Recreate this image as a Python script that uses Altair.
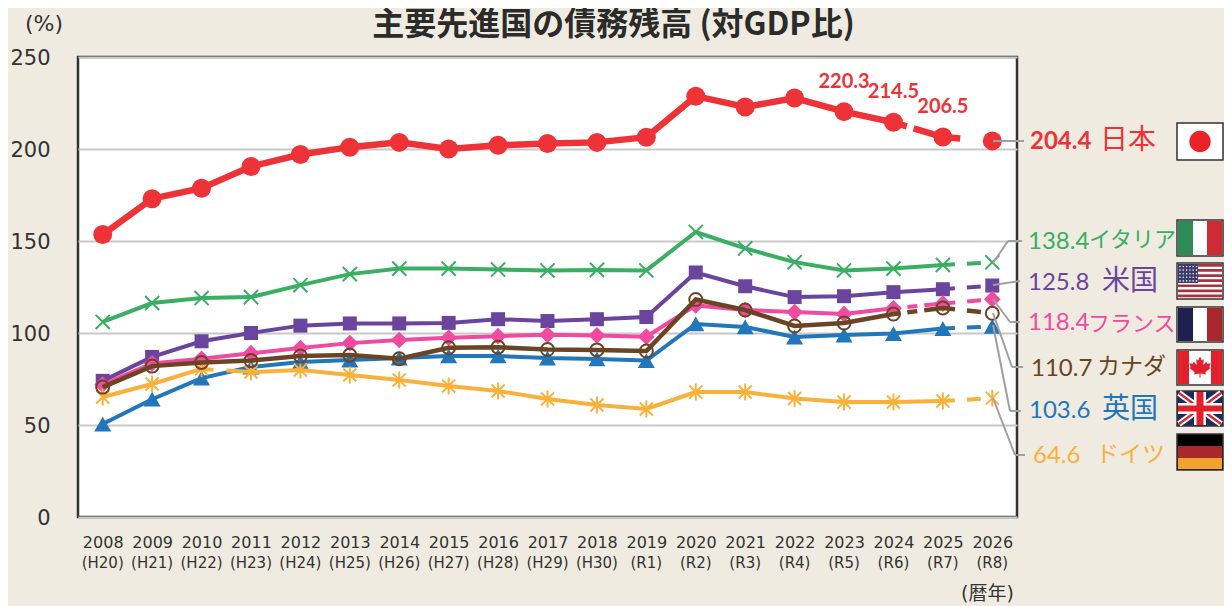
import altair as alt
import pandas as pd

years = list(range(2008, 2027))
eras = ["H20","H21","H22","H23","H24","H25","H26","H27","H28","H29","H30","R1","R2","R3","R4","R5","R6","R7","R8"]

japan = [153.5,173.0,178.7,190.5,197.0,201.0,203.6,200.0,202.0,203.0,203.6,206.4,228.7,222.8,227.7,220.3,214.5,206.5,204.4]
italy = [106.0,116.3,119.0,119.5,126.0,132.0,135.0,135.0,134.5,134.0,134.3,134.0,154.9,146.0,138.5,134.0,135.0,137.0,138.4]
usa = [74.0,87.0,95.5,100.0,104.0,105.2,105.2,105.5,107.5,106.5,107.5,108.7,132.9,125.4,119.5,120.0,122.2,123.8,125.8]
france = [72.0,83.5,86.0,89.0,91.8,94.5,96.2,97.4,98.3,99.0,98.7,98.0,115.0,112.5,111.4,110.3,113.4,116.0,118.4]
canada = [70.6,82.0,84.0,85.0,87.5,88.0,86.0,92.0,92.3,91.0,90.8,90.2,118.2,112.5,103.8,105.4,110.3,113.6,110.7]
uk = [50.5,64.0,75.5,81.5,84.2,85.3,86.4,87.5,87.5,86.4,85.9,85.0,104.9,103.3,97.8,98.9,99.7,102.4,103.6]
germany = [65.2,72.3,80.5,78.8,79.9,77.2,74.5,71.2,68.5,64.1,60.9,58.7,67.9,67.9,64.4,62.5,62.5,63.0,64.6]

RED, GREEN, PURPLE, PINK, BROWN, BLUE, YELLOW = "#EE3338", "#3AAE62", "#6B449E", "#F04BA0", "#6B4423", "#2176BC", "#F9B13C"
BG = "#EFEBE0"
LEADER = "#A0A0A0"
DEJAVU = "DejaVu Sans"
LATIN = "Lato, Noto Sans CJK JP"
CJK = "Noto Sans CJK JP"
L, T = 78, 57  # page position of plot origin

X = alt.X("year:O", scale=alt.Scale(type="point", domain=years, padding=0.5),
          axis=alt.Axis(title=None, labelAngle=0, ticks=False, domain=False, grid=False,
                        labelFont=DEJAVU, labelFontSize=16, labelColor="#333333", labelPadding=17))
Y = alt.Y("v:Q", scale=alt.Scale(domain=[0, 250], nice=False),
          axis=alt.Axis(title=None, values=[0, 50, 100, 150, 200, 250], ticks=False, domain=False,
                        gridColor="#C8C8C8", gridWidth=2, labelFont=DEJAVU, labelFontSize=21,
                        labelColor="#333333", labelPadding=28, labelOffset=1))


def frame(values):
    return pd.DataFrame({"year": years, "v": values})


base_dash = [12, 12, 14, 12]
pt_cross = "M-1,-1L1,1M-1,1L1,-1"
pt_aster = "M-1,-1L1,1M-1,1L1,-1M0,-1.3L0,1.3"

layers = []


def series(values, color, width, solid_to, dashes, shape, size, filled=True, stroke_w=2):
    df = frame(values)
    out = []
    ranges = [(0, solid_to, None)]
    for i, j, d in dashes:
        ranges.append((i, j, d))
    for i, j, d in ranges:
        kw = {"strokeDash": d} if d else {}
        out.append(alt.Chart(df.iloc[i:j + 1]).mark_line(color=color, strokeWidth=width, **kw).encode(x=X, y=Y))
    out_pt = alt.Chart(df).mark_point(shape=shape, size=size, filled=filled,
                                      fill=color if filled else None,
                                      color=color, opacity=1, strokeWidth=stroke_w).encode(x=X, y=Y)
    return out, out_pt


def add(*a, **k):
    lines, pts = series(*a, **k)
    layers.extend(lines)
    layers.append(pts)


add(japan, RED, 6.5, 16, [(16, 18, [14, 7, 48, 40])], "circle", 361)
add(italy, GREEN, 4, 17, [(17, 18, base_dash)], pt_cross, 200, filled=False, stroke_w=2)
add(usa, PURPLE, 4, 17, [(17, 18, base_dash)], "square", 196)
add(france, PINK, 4, 16, [(16, 18, [7, 7, 10, 7, 31, 12, 14, 12])], "diamond", 280)
add(uk, BLUE, 4, 17, [(17, 18, base_dash)], "triangle-up", 290)
df_g = frame(germany)
layers.append(alt.Chart(df_g.iloc[0:3]).mark_line(color=YELLOW, strokeWidth=4).encode(x=X, y=Y))
layers.append(alt.Chart(df_g.iloc[2:4]).mark_line(color=YELLOW, strokeWidth=4, strokeDash=[12, 13, 30]).encode(x=X, y=Y))
layers.append(alt.Chart(df_g.iloc[3:18]).mark_line(color=YELLOW, strokeWidth=4).encode(x=X, y=Y))
layers.append(alt.Chart(df_g.iloc[17:19]).mark_line(color=YELLOW, strokeWidth=4, strokeDash=base_dash).encode(x=X, y=Y))
layers.append(alt.Chart(df_g).mark_point(shape=pt_aster, size=170, filled=False, color=YELLOW, opacity=1, strokeWidth=2).encode(x=X, y=Y))
add(canada, BROWN, 4.5, 16, [(16, 18, [7, 7, 10, 7, 31, 12, 14, 12])], "circle", 169, filled=False, stroke_w=2)

df_j = frame(japan).iloc[15:18]
layers.append(alt.Chart(df_j).mark_text(font=LATIN, fontWeight="bold", fontSize=20, color=RED, dy=-30)
              .encode(x=X, y=Y, text=alt.Text("v:Q", format=".1f")))

df_e = pd.DataFrame({"year": years, "t": [f"({e})" for e in eras]})
layers.append(alt.Chart(df_e).mark_text(font=DEJAVU, fontSize=15, color="#333333", baseline="middle")
              .encode(x=X, y=alt.value(563 - T), text="t:N"))

one = pd.DataFrame({"a": [0]})


def text(s, x, y, size, color, font=CJK, weight="normal", align="left"):
    layers.append(alt.Chart(one).mark_text(text=s, font=font, fontSize=size, color=color, fontWeight=weight,
                                           align=align, baseline="middle")
                  .encode(x=alt.value(x - L), y=alt.value(y - T)))


def rect(x, x2, y, y2, color, stroke=None):
    kw = {"stroke": stroke, "strokeWidth": 1.5} if stroke else {}
    layers.append(alt.Chart(one).mark_rect(color=color, **kw)
                  .encode(x=alt.value(x - L), x2=alt.value(x2 - L), y=alt.value(y - T), y2=alt.value(y2 - T)))


def seg(x, y, x2, y2, color=LEADER, w=2):
    layers.append(alt.Chart(one).mark_rule(color=color, strokeWidth=w)
                  .encode(x=alt.value(x - L), x2=alt.value(x2 - L), y=alt.value(y - T), y2=alt.value(y2 - T)))


seg(993, 141, 1024, 141)
seg(993, 263, 1008, 241); seg(1008, 241, 1022, 241)
seg(993, 285, 1020, 281)
seg(993, 299, 1010, 322); seg(1010, 322, 1020, 322)
seg(993, 313, 1012, 367); seg(1012, 367, 1023, 367)
seg(993, 325, 1010, 411); seg(1010, 411, 1021, 411)
seg(993, 398, 1015, 455); seg(1015, 455, 1025, 455)

text("204.4", 1030, 142, 24, RED, LATIN, "bold")
text("日本", 1100, 141, 28, RED)
text("138.4", 1028, 242, 24, GREEN, LATIN)
text("イタリア", 1089, 240, 22, GREEN)
text("125.8", 1028, 283, 24, PURPLE, LATIN)
text("米国", 1102, 282, 28, PURPLE)
text("118.4", 1028, 323, 24, PINK, LATIN)
text("フランス", 1088, 324, 22, PINK)
text("110.7", 1031, 369, 24, BROWN, LATIN)
text("カナダ", 1097, 367, 23, BROWN)
text("103.6", 1029, 411, 24, BLUE, LATIN)
text("英国", 1102, 410, 28, BLUE)
text("64.6", 1033, 456, 24, YELLOW, LATIN)
text("ドイツ", 1096, 455, 23, YELLOW)

text("(%)", 25, 24, 22, "#333333", DEJAVU)
text("(暦年)", 961, 594, 19, "#333333", "DejaVu Sans, Noto Sans CJK JP")
text("主要先進国の債務残高 (対GDP比)", 613.5, 25, 32, "#2B2B2B", CJK, "bold", "center")

FX, FX2 = 1177, 1223
FM = 1200
rect(FX, FX2, 123, 160, "white", "#333333")
layers.append(alt.Chart(one).mark_point(shape="circle", size=460, filled=True, color="#EB2227", opacity=1)
              .encode(x=alt.value(FM - L), y=alt.value(141.5 - T)))
rect(FX, FX2, 220, 256, "white", "#333333")
rect(FX + 1, FX + 16, 221, 255, "#2E8B57")
rect(FX2 - 16, FX2 - 1, 221, 255, "#CE2B37")
rect(FX, FX2, 263, 299, "white", "#333333")
for i in range(7):
    y0 = 264 + i * 5.1
    rect(FX + 1, FX2 - 1, y0, y0 + 2.7, "#A8333F")
rect(FX + 1, FX + 21, 264, 283, "#3C3B6E")
for r in range(5):
    for c in range(6):
        layers.append(alt.Chart(one).mark_point(shape="circle", size=2.6, filled=True, color="white", opacity=0.9)
                      .encode(x=alt.value(1180 + c * 3.3 - L), y=alt.value(266.5 + r * 3.6 - T)))
rect(FX, FX2, 307, 342, "white", "#333333")
rect(FX + 1, FX + 16, 308, 341, "#1E2050")
rect(FX2 - 16, FX2 - 1, 308, 341, "#A8282E")
rect(FX, FX2, 350, 385, "white", "#333333")
rect(FX + 1, FX + 12, 351, 384, "#E2202C")
rect(FX2 - 12, FX2 - 1, 351, 384, "#E2202C")
leaf = ("M0,-1 L0.18,-0.62 L0.36,-0.72 L0.3,-0.2 L0.6,-0.5 L0.68,-0.3 L1,-0.36 L0.88,0 L1,0.1 L0.5,0.5 "
        "L0.55,0.7 L0.05,0.62 L0.05,1 L-0.05,1 L-0.05,0.62 L-0.55,0.7 L-0.5,0.5 L-1,0.1 L-0.88,0 L-1,-0.36 "
        "L-0.68,-0.3 L-0.6,-0.5 L-0.3,-0.2 L-0.36,-0.72 L-0.18,-0.62 Z")
layers.append(alt.Chart(one).mark_point(shape=leaf, size=450, filled=True, color="#E2202C", opacity=1)
              .encode(x=alt.value(FM - L), y=alt.value(367 - T)))
rect(FX, FX2, 391, 426, "#1F2A5C", "#333333")
seg(FX + 2, 393, FX2 - 2, 424, "white", 6)
seg(FX + 2, 424, FX2 - 2, 393, "white", 6)
seg(FX + 2, 393, FX2 - 2, 424, "#E2202C", 2.2)
seg(FX + 2, 424, FX2 - 2, 393, "#E2202C", 2.2)
rect(FM - 6, FM + 6, 392, 425, "white")
rect(FX + 1, FX2 - 1, 403, 414, "white")
rect(FM - 3.5, FM + 3.5, 392, 425, "#E2202C")
rect(FX + 1, FX2 - 1, 405.5, 411.5, "#E2202C")
rect(FX, FX2, 434, 470, "#000000", "#333333")
rect(FX + 1, FX2 - 1, 446, 458, "#A8282E")
rect(FX + 1, FX2 - 1, 458, 469, "#F2A32E")

chart = alt.layer(*layers).properties(
    width=939, height=460, background=BG,
    padding={"left": L - 8, "top": T - 8, "right": 1216 - (L - 8) - 939, "bottom": 598 - (T - 8) - 460},
    autosize=alt.AutoSizeParams(type="none"),
).configure_view(fill="white", stroke="#333333", strokeWidth=2.5)

chart.save("out.html", embed_options={"renderer": "svg", "actions": False})
